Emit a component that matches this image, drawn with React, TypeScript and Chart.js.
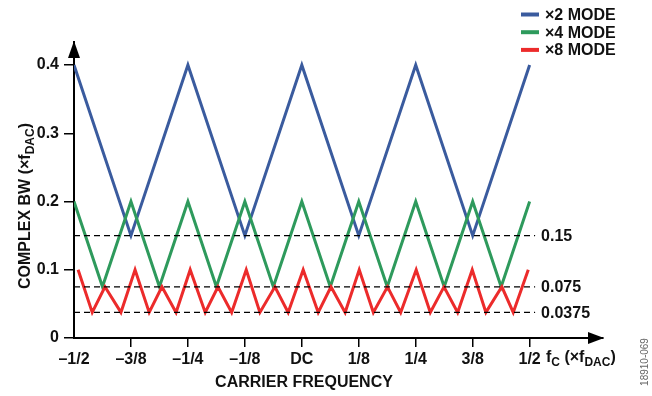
import React, { useEffect, useRef } from 'react';
import { Chart, registerables } from 'chart.js';

Chart.register(...registerables);

const FONT = '"Liberation Sans", Arial, Helvetica, sans-serif';

// Axis ticks
const X_TICKS = [-0.5, -0.375, -0.25, -0.125, 0, 0.125, 0.25, 0.375, 0.5];
const X_LABELS = ['–1/2', '–3/8', '–1/4', '–1/8', 'DC', '1/8', '1/4', '3/8', '1/2'];
const Y_TICKS = [0, 0.1, 0.2, 0.3, 0.4];
const Y_LABELS = ['0', '0.1', '0.2', '0.3', '0.4'];

// ×2 mode
const X2_FREQ = [-0.5, -0.375, -0.25, -0.125, 0, 0.125, 0.25, 0.375, 0.5];
const X2_BW = [0.4, 0.15, 0.4, 0.15, 0.4, 0.15, 0.4, 0.15, 0.4];

// ×4 mode
const X4_FREQ = [-0.5, -0.4375, -0.375, -0.3125, -0.25, -0.1875, -0.125, -0.0625, 0, 0.0625, 0.125, 0.1875, 0.25, 0.3125, 0.375, 0.4375, 0.5];
const X4_BW = [0.2, 0.075, 0.2, 0.075, 0.2, 0.075, 0.2, 0.075, 0.2, 0.075, 0.2, 0.075, 0.2, 0.075, 0.2, 0.075, 0.2];

// ×8 mode
const X8_FREQ = [-0.491, -0.46, -0.432, -0.397, -0.366, -0.335, -0.307, -0.276, -0.245, -0.212, -0.184, -0.154, -0.122, -0.092, -0.059, -0.03, 0.003, 0.036, 0.064, 0.095, 0.126, 0.157, 0.188, 0.217, 0.251, 0.282, 0.312, 0.342, 0.374, 0.404, 0.439, 0.464, 0.497];
const X8_BW = [0.1, 0.0375, 0.075, 0.0375, 0.1, 0.0375, 0.075, 0.0375, 0.1, 0.0375, 0.075, 0.0375, 0.1, 0.0375, 0.075, 0.0375, 0.1, 0.0375, 0.075, 0.0375, 0.1, 0.0375, 0.075, 0.0375, 0.1, 0.0375, 0.075, 0.0375, 0.1, 0.0375, 0.075, 0.0375, 0.1];

// Dashed reference levels
const LEVELS = [0.15, 0.075, 0.0375];
const LEVEL_LABELS = ['0.15', '0.075', '0.0375'];
const LEVEL_START = -0.5;
const LEVEL_END = 0.512;

const SERIES_NAMES = ['×2 MODE', '×4 MODE', '×8 MODE'];
const COLORS = ['#3a5b9e', '#2e9a5c', '#ec2b2b'];

const X_MIN = -0.5;
const X_MAX = 0.661;
const Y_MIN = 0;
const Y_MAX = 0.4337;

type Seg = [string, boolean];

function drawRich(ctx: CanvasRenderingContext2D, segs: Seg[], x: number, y: number, size: number, align: 'left' | 'center') {
  const main = `bold ${size}px ${FONT}`;
  const subSize = Math.round(size * 0.72);
  const sub = `bold ${subSize}px ${FONT}`;
  let w = 0;
  for (const [t, s] of segs) {
    ctx.font = s ? sub : main;
    w += ctx.measureText(t).width;
  }
  let cx = align === 'center' ? x - w / 2 : x;
  ctx.textAlign = 'left';
  ctx.textBaseline = 'alphabetic';
  for (const [t, s] of segs) {
    ctx.font = s ? sub : main;
    ctx.fillText(t, cx, s ? y + size * 0.28 : y);
    cx += ctx.measureText(t).width;
  }
}

export default function App() {
  const ref = useRef<HTMLCanvasElement>(null);

  useEffect(() => {
    document.body.style.margin = '0';
    const canvas = ref.current;
    if (!canvas) return;

    const overlay = {
      id: 'overlay',
      afterDraw(chart: any) {
        const ctx: CanvasRenderingContext2D = chart.ctx;
        const xs = chart.scales.x;
        const ys = chart.scales.y;
        const area = chart.chartArea;
        ctx.save();
        ctx.fillStyle = '#000';
        // y arrow head
        ctx.beginPath();
        ctx.moveTo(area.left, area.top - 1);
        ctx.lineTo(area.left - 6, area.top + 16);
        ctx.lineTo(area.left + 6, area.top + 16);
        ctx.closePath();
        ctx.fill();
        // x arrow head
        ctx.beginPath();
        ctx.moveTo(area.right + 1, area.bottom);
        ctx.lineTo(area.right - 15, area.bottom - 6);
        ctx.lineTo(area.right - 15, area.bottom + 6);
        ctx.closePath();
        ctx.fill();

        // level labels
        ctx.fillStyle = '#111';
        ctx.font = `bold 16px ${FONT}`;
        ctx.textAlign = 'left';
        ctx.textBaseline = 'middle';
        const lx = xs.getPixelForValue(LEVEL_END) + 6;
        LEVELS.forEach((v, i) => {
          ctx.fillText(LEVEL_LABELS[i], lx, ys.getPixelForValue(v) + 1);
        });

        // legend
        SERIES_NAMES.forEach((name, i) => {
          const y = 14.5 + i * 17.7;
          ctx.strokeStyle = COLORS[i];
          ctx.lineWidth = 4;
          ctx.beginPath();
          ctx.moveTo(521, y);
          ctx.lineTo(539, y);
          ctx.stroke();
          ctx.fillStyle = '#111';
          ctx.font = `bold 16px ${FONT}`;
          ctx.textBaseline = 'middle';
          ctx.textAlign = 'left';
          ctx.fillText(name, 545, y + 1);
        });

        // y title
        ctx.fillStyle = '#111';
        ctx.save();
        ctx.translate(24, 206);
        ctx.rotate(-Math.PI / 2);
        drawRich(ctx, [['COMPLEX BW (×f', false], ['DAC', true], [')', false]], 0, 6, 16, 'center');
        ctx.restore();

        // x title
        ctx.font = `bold 16px ${FONT}`;
        ctx.textAlign = 'center';
        ctx.textBaseline = 'middle';
        ctx.fillText('CARRIER FREQUENCY', 304, 383);

        // fC unit label
        drawRich(ctx, [['f', false], ['C', true], [' (×f', false], ['DAC', true], [')', false]], 546, 362, 16, 'left');

        // figure id
        ctx.save();
        ctx.fillStyle = '#666';
        ctx.font = `10px ${FONT}`;
        ctx.translate(645, 362);
        ctx.rotate(-Math.PI / 2);
        ctx.textAlign = 'center';
        ctx.textBaseline = 'middle';
        ctx.fillText('18910-069', 0, 0);
        ctx.restore();

        ctx.restore();
      },
    };

    const toPts = (xs: number[], ys: number[]) => xs.map((x, i) => ({ x, y: ys[i] }));

    const levelSets = LEVELS.map((v) => ({
      label: 'level ' + v,
      data: [{ x: LEVEL_START, y: v }, { x: LEVEL_END, y: v }],
      borderColor: '#000',
      borderWidth: 1.3,
      borderDash: [6, 4],
      pointRadius: 0,
      fill: false,
      order: 0,
    }));

    const chart = new Chart(canvas, {
      type: 'line',
      data: {
        datasets: [
          { label: SERIES_NAMES[0], data: toPts(X2_FREQ, X2_BW), borderColor: COLORS[0], borderWidth: 3, pointRadius: 0, fill: false, order: 3 },
          { label: SERIES_NAMES[1], data: toPts(X4_FREQ, X4_BW), borderColor: COLORS[1], borderWidth: 3, pointRadius: 0, fill: false, order: 2 },
          { label: SERIES_NAMES[2], data: toPts(X8_FREQ, X8_BW), borderColor: COLORS[2], borderWidth: 3, pointRadius: 0, fill: false, order: 1 },
          ...levelSets,
        ] as any,
      },
      options: {
        responsive: false,
        animation: false,
        devicePixelRatio: 1,
        layout: { padding: { top: 42, right: 49, left: 0, bottom: 0 } },
        plugins: { legend: { display: false }, tooltip: { enabled: false }, title: { display: false } },
        elements: { line: { tension: 0, borderJoinStyle: 'miter' } },
        scales: {
          x: {
            type: 'linear',
            min: X_MIN,
            max: X_MAX,
            afterBuildTicks: (scale: any) => {
              scale.ticks = X_TICKS.map((v) => ({ value: v }));
            },
            afterFit: (scale: any) => {
              scale.height = 58;
            },
            ticks: {
              autoSkip: false,
              maxRotation: 0,
              padding: 3,
              color: '#111',
              font: { family: FONT, size: 16, weight: 'bold' },
              callback: (_v: any, i: number) => X_LABELS[i],
            },
            grid: {
              display: true,
              drawOnChartArea: false,
              drawTicks: true,
              tickLength: 9,
              lineWidth: 1.5,
              color: (c: any) => (c.index === 0 ? 'rgba(0,0,0,0)' : '#000'),
            },
            border: { display: true, color: '#000', width: 2 },
          },
          y: {
            type: 'linear',
            min: Y_MIN,
            max: Y_MAX,
            afterBuildTicks: (scale: any) => {
              scale.ticks = Y_TICKS.map((v) => ({ value: v }));
            },
            afterFit: (scale: any) => {
              scale.width = 74;
            },
            ticks: {
              autoSkip: false,
              padding: 5,
              color: '#111',
              font: { family: FONT, size: 16, weight: 'bold' },
              callback: (_v: any, i: number) => Y_LABELS[i],
            },
            grid: {
              display: true,
              drawOnChartArea: false,
              drawTicks: true,
              tickLength: 10,
              lineWidth: 1.5,
              color: '#000',
            },
            border: { display: true, color: '#000', width: 2 },
          },
        },
      } as any,
      plugins: [overlay],
    });

    return () => chart.destroy();
  }, []);

  return (
    <div style={{ width: 652, height: 396, position: 'relative', background: '#fff' }}>
      <canvas ref={ref} width={652} height={396} style={{ display: 'block' }} />
    </div>
  );
}
